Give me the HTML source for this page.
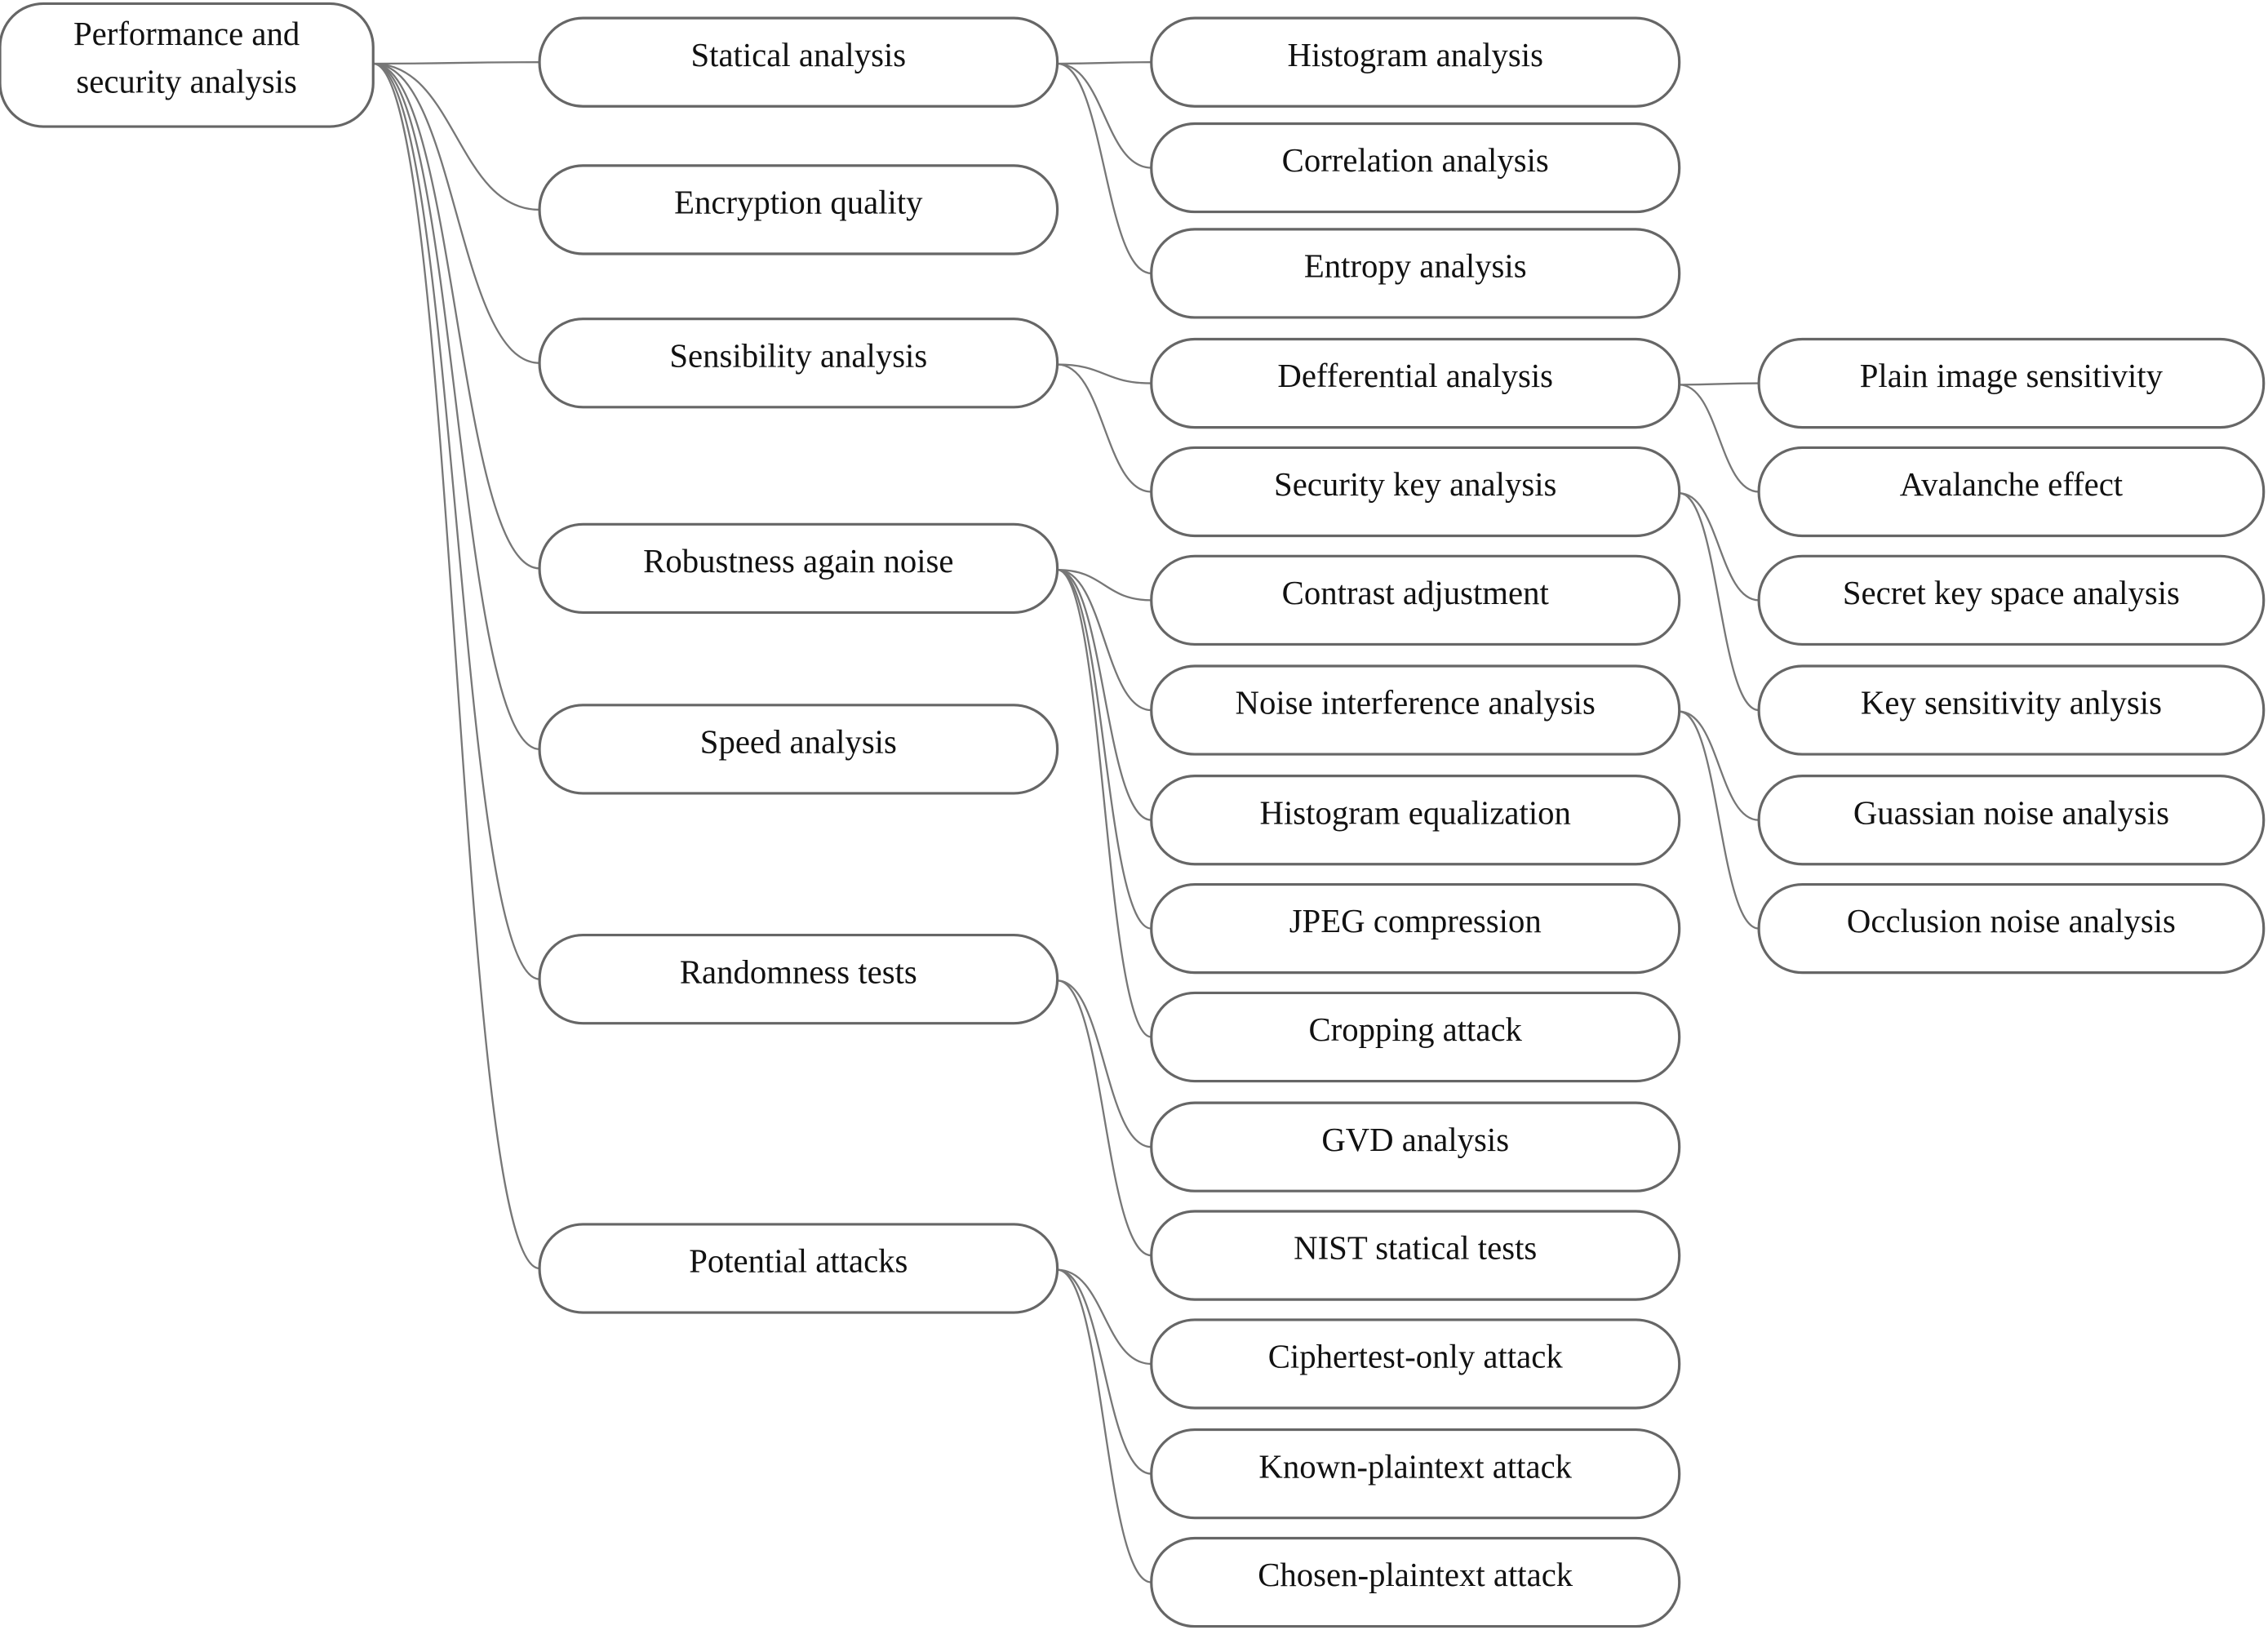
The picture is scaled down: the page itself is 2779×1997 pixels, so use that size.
<!DOCTYPE html>
<html><head><meta charset="utf-8"><style>
html,body{margin:0;padding:0;background:#fff;}
svg{display:block;}
text{font-family:"Liberation Serif",serif;font-size:23px;fill:#111;text-anchor:middle;dominant-baseline:central;}
.b{fill:#fff;stroke:#666;stroke-width:1.8;}
.c{fill:none;stroke:#777;stroke-width:1.3;}
</style></head><body>
<svg width="2779" height="1997" viewBox="0 0 1568 1127" preserveAspectRatio="none" xmlns="http://www.w3.org/2000/svg">
<g id="conn"></g>
<g id="nodes"></g>
<script>
var S="http://www.w3.org/2000/svg";
var L1x=[373,731],L2x=[796,1161],L3x=[1216,1565];
function box(x1,x2,yc,h,label){
  var g=document.getElementById('nodes');
  var r=document.createElementNS(S,'rect');
  r.setAttribute('x',x1);r.setAttribute('y',yc-h/2);r.setAttribute('width',x2-x1);r.setAttribute('height',h);
  r.setAttribute('rx',30);r.setAttribute('ry',30);r.setAttribute('class','b');g.appendChild(r);
  var lines=label.split('|');
  lines.forEach(function(t,i){
    var tx=document.createElementNS(S,'text');
    tx.setAttribute('x',(x1+x2)/2);tx.setAttribute('y',yc-5+(i-(lines.length-1)/2)*33);
    tx.textContent=t;g.appendChild(tx);
  });
}
function conn(x1,y1,x2,y2){
  var g=document.getElementById('conn');
  var p=document.createElementNS(S,'path');
  var dx=x2-x1;
  p.setAttribute('d','M'+x1+' '+y1+' C'+(x1+dx*0.5)+' '+y1+' '+(x1+dx*0.5)+' '+y2+' '+x2+' '+y2);
  p.setAttribute('class','c');g.appendChild(p);
}
box(0,258,45,85,'Performance and|security analysis');
var L1=[['Statical analysis',43],['Encryption quality',145],['Sensibility analysis',251],['Robustness again noise',393],['Speed analysis',518],['Randomness tests',677],['Potential attacks',877]];
var L2=[['Histogram analysis',43,0],['Correlation analysis',116,0],['Entropy analysis',189,0],['Defferential analysis',265,2],['Security key analysis',340,2],['Contrast adjustment',415,3],['Noise interference analysis',491,3],['Histogram equalization',567,3],['JPEG compression',642,3],['Cropping attack',717,3],['GVD analysis',793,5],['NIST statical tests',868,5],['Ciphertest-only attack',943,6],['Known-plaintext attack',1019,6],['Chosen-plaintext attack',1094,6]];
var L3=[['Plain image sensitivity',265,3],['Avalanche effect',340,3],['Secret key space analysis',415,4],['Key sensitivity anlysis',491,4],['Guassian noise analysis',567,6],['Occlusion noise analysis',642,6]];
L1.forEach(function(n){conn(258,44,373,n[1]);});
L2.forEach(function(n){conn(731,L1[n[2]][1]+1,796,n[1]);});
L3.forEach(function(n){conn(1161,L2[n[2]][1]+1,1216,n[1]);});
L1.forEach(function(n){box(373,731,n[1],61,n[0]);});
L2.forEach(function(n){box(796,1161,n[1],61,n[0]);});
L3.forEach(function(n){box(1216,1565,n[1],61,n[0]);});
</script>
</svg>
</body></html>
